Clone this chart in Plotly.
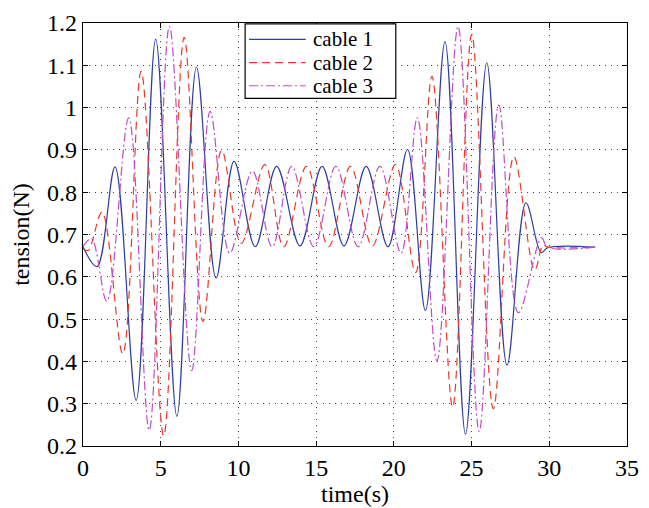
import plotly.graph_objects as go

# ---- data (extrema) ----
series_names = ["cable 1", "cable 2", "cable 3"]

t_cable1 = [0.0, 0.90, 2.06, 3.42, 4.68, 6.04, 7.30, 8.56, 9.72, 11.08, 12.46, 13.96,
            15.38, 16.79, 18.22, 19.62, 20.88, 22.03, 23.29, 24.61, 25.98, 27.28,
            28.50, 29.48, 29.90, 32.95]
y_cable1 = [0.671, 0.624, 0.860, 0.308, 1.162, 0.270, 1.096, 0.597, 0.873, 0.671, 0.861, 0.673,
            0.861, 0.673, 0.861, 0.671, 0.901, 0.520, 1.156, 0.228, 1.106, 0.391,
            0.775, 0.657, 0.669, 0.670]

t_cable2 = [0.0, 0.33, 1.22, 2.56, 3.74, 5.19, 6.51, 7.72, 8.92, 10.18, 11.70, 12.91,
            14.38, 15.80, 17.21, 18.61, 20.10, 21.40, 22.45, 23.78, 25.01, 26.40,
            27.72, 29.06, 29.60, 29.90, 32.95]
y_cable2 = [0.667, 0.662, 0.753, 0.418, 1.086, 0.224, 1.166, 0.494, 0.899, 0.679, 0.865, 0.671,
            0.861, 0.671, 0.861, 0.673, 0.865, 0.610, 1.074, 0.292, 1.173, 0.288,
            0.884, 0.616, 0.675, 0.670, 0.670]

t_cable3 = [0.0, 0.55, 1.53, 2.94, 4.26, 5.56, 6.99, 8.18, 9.44, 10.90, 12.17, 13.43,
            14.85, 16.27, 17.70, 19.10, 20.46, 21.51, 22.77, 24.13, 25.49, 26.75,
            28.01, 29.50, 29.90, 32.95]
y_cable3 = [0.672, 0.690, 0.542, 0.976, 0.237, 1.192, 0.378, 0.991, 0.656, 0.850, 0.671, 0.861,
            0.671, 0.861, 0.671, 0.861, 0.656, 0.976, 0.401, 1.192, 0.234, 1.006,
            0.515, 0.692, 0.670, 0.670]

x_ticks = [0, 5, 10, 15, 20, 25, 30, 35]
y_ticks = [0.2, 0.3, 0.4, 0.5, 0.6, 0.7, 0.8, 0.9, 1.0, 1.1, 1.2]
y_tick_text = ["0.2", "0.3", "0.4", "0.5", "0.6", "0.7", "0.8", "0.9", "1", "1.1", "1.2"]

# ---- styles ----
colors = ["#2f3f9f", "#e8392b", "#c24bc6"]
dashes = ["solid", "8px,5px", "9px,3px,2px,3px"]
FONT = "Liberation Serif, DejaVu Serif, serif"
FS = 24

fig = go.Figure()
for t, y, name, c, d in zip([t_cable1, t_cable2, t_cable3],
                            [y_cable1, y_cable2, y_cable3],
                            series_names, colors, dashes):
    fig.add_trace(go.Scatter(x=t, y=y, name=name, mode="lines",
                             line=dict(color=c, width=1.2, dash=d, shape="spline", smoothing=1.0),
                             showlegend=False))

# ---- manual legend box (MATLAB style) ----
L, R, T, B = 83.3, 639.3, 15.0, 453.0
def px(xp):
    return (xp - L) / (R - L)
def py(yp):
    return (B - yp) / (B - T)

shapes = [dict(type="rect", xref="paper", yref="paper",
               x0=px(249), x1=px(403), y0=py(93), y1=py(16),
               line=dict(color="black", width=1.2), fillcolor="white", layer="above")]
annotations = []
rows = [32.0, 56.0, 80.0]
for name, c, d, ry in zip(series_names, colors, dashes, rows):
    shapes.append(dict(type="line", xref="paper", yref="paper",
                       x0=px(253), x1=px(311), y0=py(ry), y1=py(ry),
                       line=dict(color=c, width=1.2, dash=d), layer="above"))
    annotations.append(dict(xref="paper", yref="paper", x=px(317), y=py(ry),
                            text=name, showarrow=False, xanchor="left", yanchor="middle",
                            height=22, valign="middle", borderpad=0,
                            font=dict(family=FONT, size=21, color="black")))

axis_common = dict(showline=True, linecolor="black", linewidth=1.2, mirror="ticks",
                   ticks="inside", ticklen=5, tickcolor="black",
                   showgrid=True, gridcolor="#444444", gridwidth=1, griddash="1px,5px",
                   zeroline=False, ticklabeloverflow="allow",
                   tickfont=dict(family=FONT, size=FS, color="black"))

fig.update_layout(
    width=649, height=508,
    margin=dict(l=83, r=10, t=15, b=55),
    paper_bgcolor="white", plot_bgcolor="white",
    xaxis=dict(range=[0, 35], tickvals=x_ticks, ticktext=[str(v) for v in x_ticks],
               title=dict(text="time(s)", font=dict(family=FONT, size=FS, color="black"), standoff=0),
               **axis_common),
    yaxis=dict(range=[0.2, 1.2], tickvals=y_ticks, ticktext=y_tick_text,
               title=dict(text="tension(N)", font=dict(family=FONT, size=FS, color="black"), standoff=10),
               **axis_common),
    shapes=shapes, annotations=annotations,
)

fig.write_html("out.html")
